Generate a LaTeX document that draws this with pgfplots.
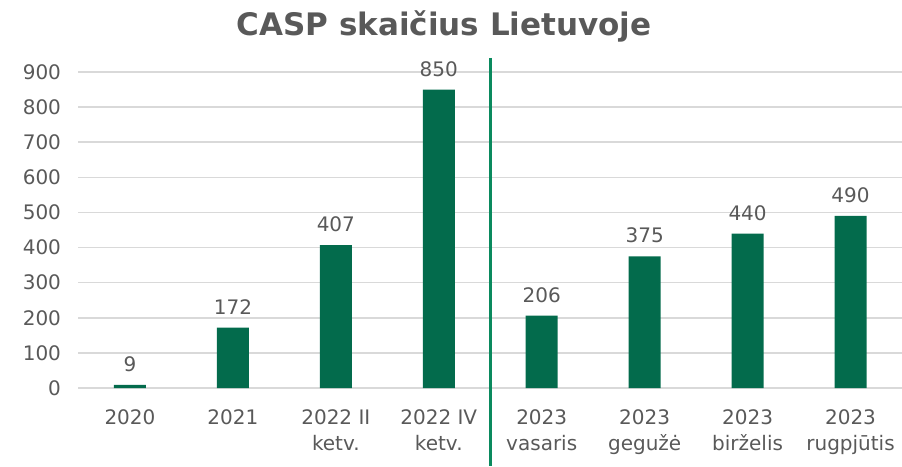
\documentclass[border=0pt]{standalone}
\usepackage{fontspec}
\setmainfont{DejaVu Sans}
\usepackage{pgfplots}
\pgfplotsset{compat=1.18}
\definecolor{bargreen}{HTML}{036B4C}
\definecolor{linegreen}{HTML}{0A8A5E}
\definecolor{txtgray}{HTML}{595959}
\definecolor{gridgray}{HTML}{D9D9D9}
\begin{document}
\begin{tikzpicture}
\useasboundingbox (-78.5pt,-78pt) rectangle (823.5pt,388pt);
\begin{axis}[
  at={(0,0)}, anchor=south west,
  scale only axis, width=823.5pt, height=316pt,
  xmin=-0.5, xmax=7.5, ymin=0, ymax=900,
  ytick={0,100,...,900},
  xtick={0,...,7},
  xticklabels={2020,2021,{2022 II\\ketv.},{2022 IV\\ketv.},{2023\\vasaris},{2023\\gegužė},{2023\\birželis},{2023\\rugpjūtis}},
  axis line style={draw=none},
  major tick length=0pt,
  ymajorgrids, grid style={gridgray, line width=1.5pt},
  tick label style={font=\fontsize{20}{26.5}\selectfont, text=txtgray},
  /pgf/number format/assume math mode=true,
  yticklabel style={xshift=-14pt},
  xticklabel style={align=center, yshift=-18pt, anchor=north},
  clip=false,
  ybar, bar width=32pt,
  nodes near coords,
  every node near coord/.append style={font=\fontsize{20}{24}\selectfont, text=txtgray, anchor=south, inner sep=0pt, yshift=13pt},
]
\addplot[fill=bargreen, draw=none] coordinates {(0,9) (1,172) (2,407) (3,850) (4,206) (5,375) (6,440) (7,490)};
\end{axis}
\begin{axis}[
  at={(0,0)}, anchor=south west,
  scale only axis, width=823.5pt, height=316pt,
  xmin=-0.5, xmax=7.5, ymin=0, ymax=900,
  hide axis, clip=false,
]
\addplot[linegreen, line width=3pt] coordinates {(3.5,940) (3.5,-222)};
\end{axis}
\node[anchor=base, text=txtgray, font=\fontsize{31}{36}\selectfont\bfseries] at (365.5pt,352pt) {CASP skaičius Lietuvoje};
\end{tikzpicture}
\end{document}
